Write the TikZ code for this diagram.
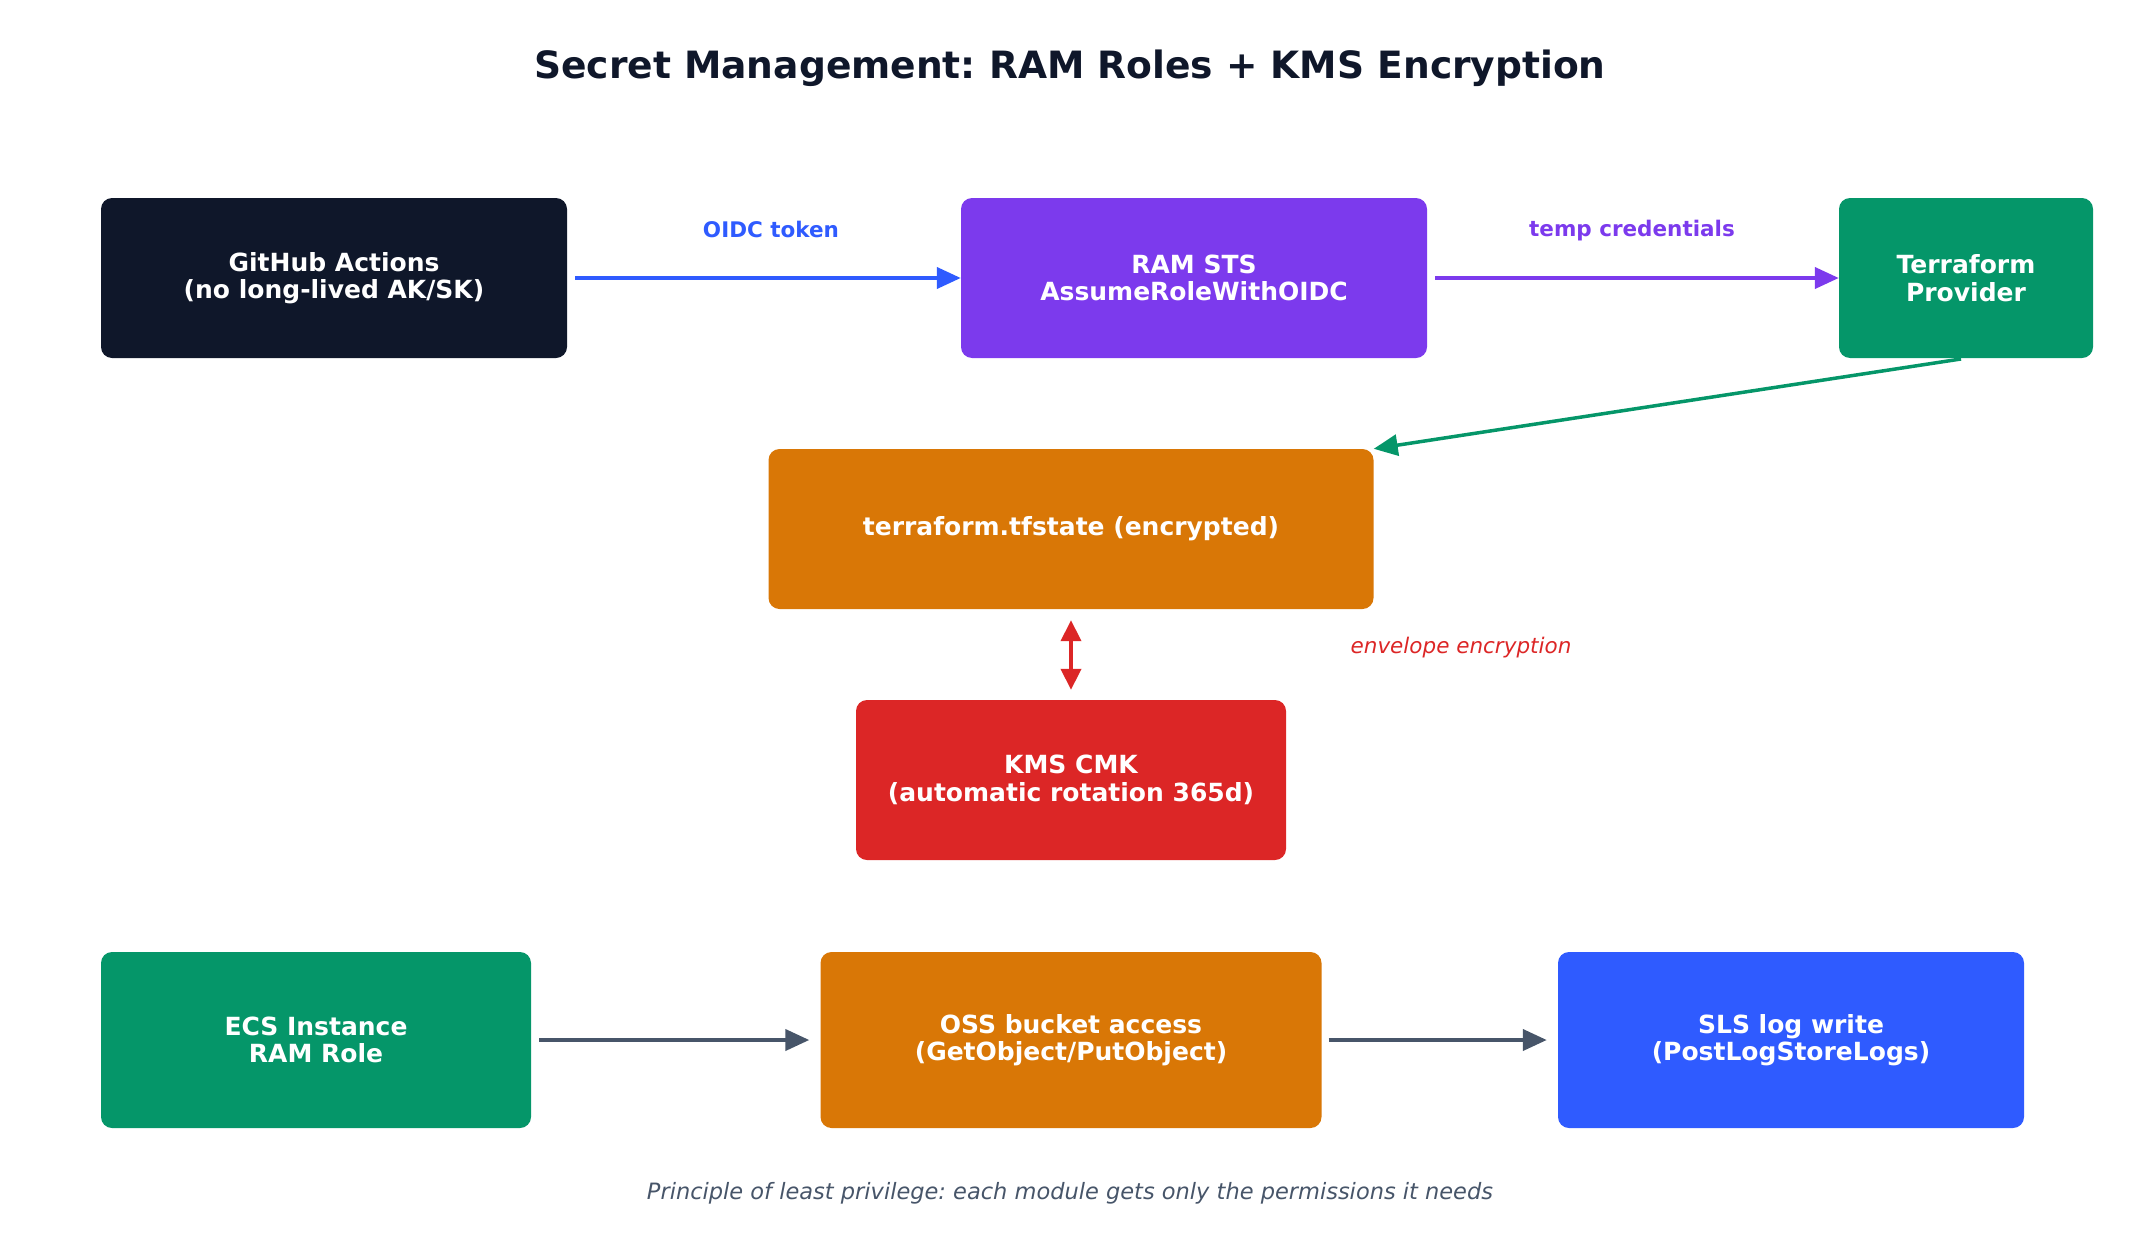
\documentclass[tikz,border=0pt]{standalone}
\usepackage{fontspec}
\setmainfont{DejaVu Sans}
\usetikzlibrary{arrows.meta}
\definecolor{inkdark}{HTML}{0F172A}
\definecolor{stsviolet}{HTML}{7C3AED}
\definecolor{tfgreen}{HTML}{059669}
\definecolor{stateorange}{HTML}{D97706}
\definecolor{kmsred}{HTML}{DC2626}
\definecolor{slsblue}{HTML}{2F5BFF}
\definecolor{slategray}{HTML}{475569}
\frenchspacing
\begin{document}
\begin{tikzpicture}[x=1pt, y=-1pt]
  % Define box, arrow and label styles
  \tikzstyle{mybox} = [rectangle, rounded corners=11pt, text=white,
  align=center, font=\fontsize{25}{27.5}\selectfont\bfseries]
  \tikzstyle{myarrow} = [-{Triangle[length=24pt, width=21pt]}, line width=4pt]
  \tikzstyle{arrowlabel} = [font=\fontsize{21.5}{25}\selectfont\bfseries]

  \useasboundingbox (0,0) rectangle (2141,1242);

  \node[font=\fontsize{37.6}{44}\selectfont\bfseries, text=inkdark] (title) at (1070,68)
    {Secret Management: RAM Roles + KMS Encryption};

  % top row
  \node[mybox, fill=inkdark, minimum width=466pt, minimum height=160pt] (github) at (334,278)
    {GitHub Actions\\(no long-lived AK/SK)};
  \node[mybox, fill=stsviolet, minimum width=466pt, minimum height=160pt] (sts) at (1194,278)
    {RAM STS\\AssumeRoleWithOIDC};
  \node[mybox, fill=tfgreen, minimum width=254pt, minimum height=160pt] (tfprov) at (1966,278)
    {Terraform\\Provider};

  % state and key
  \node[mybox, fill=stateorange, minimum width=605pt, minimum height=160pt] (tfstate) at (1071,529)
    {terraform.tfstate (encrypted)};
  \node[mybox, fill=kmsred, minimum width=430pt, minimum height=160pt] (kms) at (1071,780)
    {KMS CMK\\(automatic rotation 365d)};

  % bottom row
  \node[mybox, fill=tfgreen, minimum width=430pt, minimum height=176pt] (ecs) at (316,1040)
    {ECS Instance\\RAM Role};
  \node[mybox, fill=stateorange, minimum width=501pt, minimum height=176pt] (oss) at (1071,1040)
    {OSS bucket access\\(GetObject/PutObject)};
  \node[mybox, fill=slsblue, minimum width=466pt, minimum height=176pt] (sls) at (1791,1040)
    {SLS log write\\(PostLogStoreLogs)};

  % connectors
  \draw[myarrow, slsblue, shorten <=8pt] (github) -- (sts);
  \node[arrowlabel, text=slsblue] (oidclbl) at (771,229) {OIDC token};
  \draw[myarrow, stsviolet, shorten <=8pt] (sts) -- (tfprov);
  \node[arrowlabel, text=stsviolet] (credlbl) at (1632,231) {temp credentials};
  \draw[myarrow, tfgreen, line width=3.5pt, shorten <=5pt] (tfprov.south) -- (tfstate.north east);
  \draw[{Triangle[length=21pt, width=20pt]}-{Triangle[length=21pt, width=20pt]},
    line width=4pt, kmsred, shorten <=11pt, shorten >=10pt] (tfstate) -- (kms);
  \node[font=\fontsize{21.5}{25}\selectfont\itshape, text=kmsred] (envlbl) at (1461,648)
    {envelope encryption};
  \draw[myarrow, slategray, shorten <=8pt, shorten >=11pt] (ecs) -- (oss);
  \draw[myarrow, slategray, shorten <=7pt, shorten >=11pt] (oss) -- (sls);

  \node[font=\fontsize{22.5}{27}\selectfont\itshape, text=slategray] (footer) at (1070,1193)
    {Principle of least privilege: each module gets only the permissions it needs};
\end{tikzpicture}
\end{document}
